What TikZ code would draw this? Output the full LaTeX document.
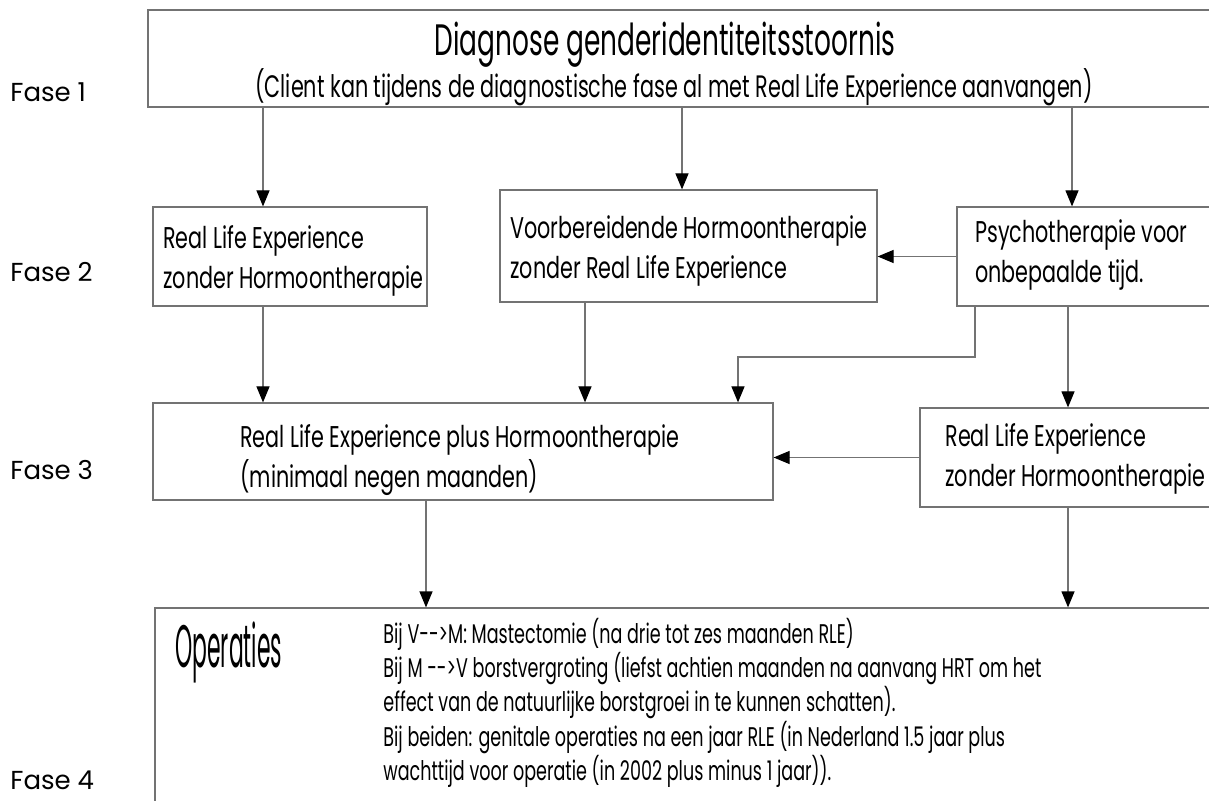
\documentclass[tikz,border=0pt]{standalone}
\usepackage{fontspec}
\setmainfont{Poppins}
\newfontfamily\titlefont[FakeStretch=0.60]{Poppins}
\newfontfamily\subfont[FakeStretch=0.67]{Poppins}
\newfontfamily\boxfont[FakeStretch=0.69]{Poppins}
\newfontfamily\operfont[FakeStretch=0.365]{Poppins}
\newfontfamily\notefont[FakeStretch=0.65]{Poppins}
\usetikzlibrary{arrows.meta}

\begin{document}
\begin{tikzpicture}[x=0.5pt,y=-0.5pt]
% Diagram style
\tikzset{
    box/.style={draw=black!55, line width=0.6pt, rectangle, inner sep=0pt},
    txt/.style={anchor=west, align=left, inner sep=0pt, font=\boxfont\fontsize{15}{20}\selectfont},
    fase/.style={anchor=west, inner sep=0pt, font=\fontsize{13}{15}\selectfont},
    arr/.style={draw=black!55, line width=0.6pt, -{Triangle[length=8pt,width=6.5pt,color=black]}}
}
\useasboundingbox (0,0) rectangle (1209,801);
\clip (0,0) rectangle (1209,801);

% Boxes
\node[box, minimum width=533.5pt, minimum height=48.5pt] (diag) at (681.5,58.5) {};
\node[box, minimum width=137pt, minimum height=49.5pt] (rleA) at (290,256.5) {};
\node[box, minimum width=188.5pt, minimum height=56pt] (horm) at (688.5,246) {};
\node[box, minimum width=129pt, minimum height=49.5pt] (psych) at (1086,256.5) {};
\node[box, minimum width=310pt, minimum height=48.5pt] (rleplus) at (463,451.5) {};
\node[box, minimum width=147.5pt, minimum height=49.5pt] (rleB) at (1067.5,457.5) {};
\node[box, minimum width=530pt, minimum height=106pt] (oper) at (685,714) {};

% Texts
\node[inner sep=0pt, font=\titlefont\fontsize{22}{24}\selectfont] (title) at (665,45) {Diagnose genderidentiteitsstoornis};
\node[inner sep=0pt, font=\subfont\fontsize{15.5}{17}\selectfont] (sub) at (674,87) {(Client kan tijdens de diagnostische fase al met Real Life Experience aanvangen)};
\node[txt] (tA) at (163,261) {Real Life Experience\\zonder Hormoontherapie};
\node[txt] (tB) at (510,251) {Voorbereidende Hormoontherapie\\zonder Real Life Experience};
\node[txt] (tC) at (975,255) {Psychotherapie voor\\onbepaalde tijd.};
\node[txt] (tD) at (240,460) {Real Life Experience plus Hormoontherapie\\(minimaal negen maanden)};
\node[txt] (tE) at (945,459) {Real Life Experience\\zonder Hormoontherapie};
\node[anchor=west, inner sep=0pt, font=\operfont\fontsize{30}{32}\selectfont] (opt) at (175,652) {Operaties};
\node[anchor=west, align=left, inner sep=0pt, font=\notefont\fontsize{13.5}{14.5}\selectfont] (notes) at (383,703) {%
Bij V-{}->M: Mastectomie (na drie tot zes maanden RLE)\\
Bij M -{}->V borstvergroting (liefst achtien maanden na aanvang HRT om het\\
effect van de natuurlijke borstgroei in te kunnen schatten).\\
Bij beiden: genitale operaties na een jaar RLE (in Nederland 1.5 jaar plus\\
wachttijd voor operatie (in 2002 plus minus 1 jaar)).};

% Phases
\node[fase] (f1) at (10,92) {Fase 1};
\node[fase] (f2) at (10,272) {Fase 2};
\node[fase] (f3) at (10,470) {Fase 3};
\node[fase] (f4) at (10,780) {Fase 4};

% Connections
\coordinate (xa) at (263,0);
\coordinate (xb) at (682,0);
\coordinate (xc) at (1072,0);
\coordinate (xd) at (585,0);
\coordinate (xe) at (975,0);
\coordinate (xf) at (738,357);
\coordinate (xg) at (1068,0);
\coordinate (xh) at (426,0);

\draw[arr] (xa |- diag.south) -- (xa |- rleA.north);
\draw[arr] (xb |- diag.south) -- (xb |- horm.north);
\draw[arr] (xc |- diag.south) -- (xc |- psych.north);
\draw[arr] (psych.west) -- (psych.west -| horm.east);

\draw[arr] (xa |- rleA.south) -- (xa |- rleplus.north);
\draw[arr] (xd |- horm.south) -- (xd |- rleplus.north);
\draw[arr] (xe |- psych.south) |- (xf) -- (xf |- rleplus.north);
\draw[arr] (xg |- psych.south) -- (xg |- rleB.north);
\draw[arr] (rleB.west) -- (rleB.west -| rleplus.east);

\draw[arr] (xh |- rleplus.south) -- (xh |- oper.north);
\draw[arr] (xg |- rleB.south) -- (xg |- oper.north);
\end{tikzpicture}
\end{document}
